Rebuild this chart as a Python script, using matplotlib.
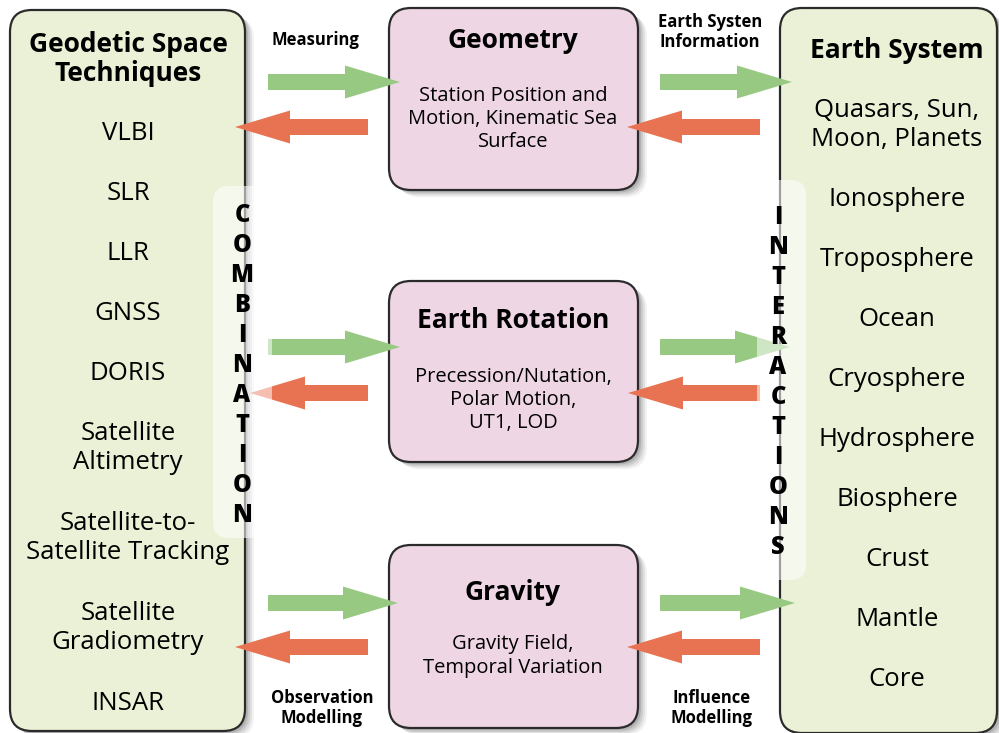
import matplotlib
matplotlib.use("Agg")
from matplotlib import pyplot as plt
from matplotlib.patches import FancyBboxPatch, FancyArrow

FONT = "Open Sans"

# outer columns
left_title = "Geodetic Space\nTechniques"
left_items = [
    "VLBI", "SLR", "LLR", "GNSS", "DORIS", "Satellite\nAltimetry",
    "Satellite-to-\nSatellite Tracking", "Satellite\nGradiometry", "INSAR",
]
left_y = [133, 193, 253, 313, 373, 448, 538, 628, 703]

right_title = "Earth System"
right_items = [
    "Quasars, Sun,\nMoon, Planets", "Ionosphere", "Troposphere", "Ocean",
    "Cryosphere", "Hydrosphere", "Biosphere", "Crust", "Mantle", "Core",
]
right_y = [125, 200, 260, 320, 380, 440, 500, 560, 620, 680]

# middle boxes
mid_titles = ["Geometry", "Earth Rotation", "Gravity"]
mid_bodies = [
    "Station Position and\nMotion, Kinematic Sea\nSurface",
    "Precession/Nutation,\nPolar Motion,\nUT1, LOD",
    "Gravity Field,\nTemporal Variation",
]
mid_top = [8, 281, 545]
mid_bottom = [190, 462, 728]
mid_title_y = [40, 321, 592]
mid_body_y = [119, 400, 656]

# arrows per row: (tail x, tip x)
green_y = [82, 347, 603]
red_y = [127, 393, 647]
left_green = [(268, 400), (268, 400), (268, 398)]
left_red = [(368, 235), (368, 250), (368, 235)]
right_green = [(660, 792), (660, 790), (660, 795)]
right_red = [(760, 627), (760, 628), (760, 627)]

side_labels = [
    ("Measuring", 315, 40),
    ("Earth Systen\nInformation", 710, 32),
    ("Observation\nModelling", 322, 708),
    ("Influence\nModelling", 712, 708),
]

GREEN = "#97c982"
RED = "#e87352"
PANEL = "#ebf1d6"
PINK = "#efd6e5"
EDGE = "#2b2b2b"


def rounded_box(ax, x0, y0, x1, y1, face, r=22, shadow=True, z=1):
    if shadow:
        for k, a in zip([9, 7, 5, 3], [0.05, 0.07, 0.09, 0.12]):
            ax.add_patch(FancyBboxPatch(
                (x0 + k, y0 + k * 0.8), x1 - x0, y1 - y0,
                boxstyle="round,pad=0,rounding_size={}".format(r),
                fc="black", ec="none", alpha=a, zorder=z - 0.5))
    ax.add_patch(FancyBboxPatch(
        (x0, y0), x1 - x0, y1 - y0,
        boxstyle="round,pad=0,rounding_size={}".format(r),
        fc=face, ec=EDGE, lw=1.6, zorder=z))


def arrow(ax, x_tail, x_tip, y, color):
    ax.add_patch(FancyArrow(
        x_tail, y, x_tip - x_tail, 0, width=16, head_width=33,
        head_length=55, length_includes_head=True,
        fc=color, ec="none", zorder=3))


fig = plt.figure(figsize=(9.99, 7.33), dpi=100)
ax = fig.add_axes([0, 0, 1, 1])
ax.set_xlim(0, 999)
ax.set_ylim(733, 0)
ax.axis("off")

rounded_box(ax, 10, 10, 245, 731, PANEL)
rounded_box(ax, 780, 8, 997, 733, PANEL)
for top, bot in zip(mid_top, mid_bottom):
    rounded_box(ax, 389, top, 638, bot, PINK)

ax.text(128, 59, left_title, ha="center", va="center", fontsize=19,
        fontweight="bold", family=FONT, linespacing=1.1, zorder=5)
for label, y in zip(left_items, left_y):
    ax.text(128, y, label, ha="center", va="center", fontsize=18.5,
            family=FONT, linespacing=1.26, zorder=5)

ax.text(897, 51, right_title, ha="center", va="center", fontsize=19,
        fontweight="bold", family=FONT, zorder=5)
for label, y in zip(right_items, right_y):
    ax.text(897, y, label, ha="center", va="center", fontsize=18.5,
            family=FONT, linespacing=1.26, zorder=5)

for title, body, ty, by in zip(mid_titles, mid_bodies, mid_title_y, mid_body_y):
    ax.text(513, ty, title, ha="center", va="center", fontsize=19,
            fontweight="bold", family=FONT, zorder=5)
    ax.text(513, by, body, ha="center", va="center", fontsize=14.5,
            family=FONT, linespacing=1.2, zorder=5)

for y, lg, lr, rg, rr, y2 in zip(green_y, left_green, left_red,
                                 right_green, right_red, red_y):
    arrow(ax, lg[0], lg[1], y, GREEN)
    arrow(ax, rg[0], rg[1], y, GREEN)
    arrow(ax, lr[0], lr[1], y2, RED)
    arrow(ax, rr[0], rr[1], y2, RED)

for label, x, y in side_labels:
    ax.text(x, y, label, ha="center", va="center", fontsize=12,
            fontweight="bold", family=FONT, linespacing=1.1, zorder=5)

# translucent bands with vertical words
bands = [("COMBINATION", 213, 272, 186, 538, 242, 215),
         ("INTERACTIONS", 757, 806, 180, 580, 778, 218)]
for word, x0, x1, y0, y1, xc, ys in bands:
    ax.add_patch(FancyBboxPatch(
        (x0, y0), x1 - x0, y1 - y0,
        boxstyle="round,pad=0,rounding_size=16",
        fc="white", ec="none", alpha=0.55, zorder=4))
    for i, ch in enumerate(word):
        ax.text(xc, ys + 30 * i, ch, ha="center", va="center", fontsize=17,
                fontweight="heavy", family=FONT, zorder=6)

fig.savefig("out.png", dpi=100)
